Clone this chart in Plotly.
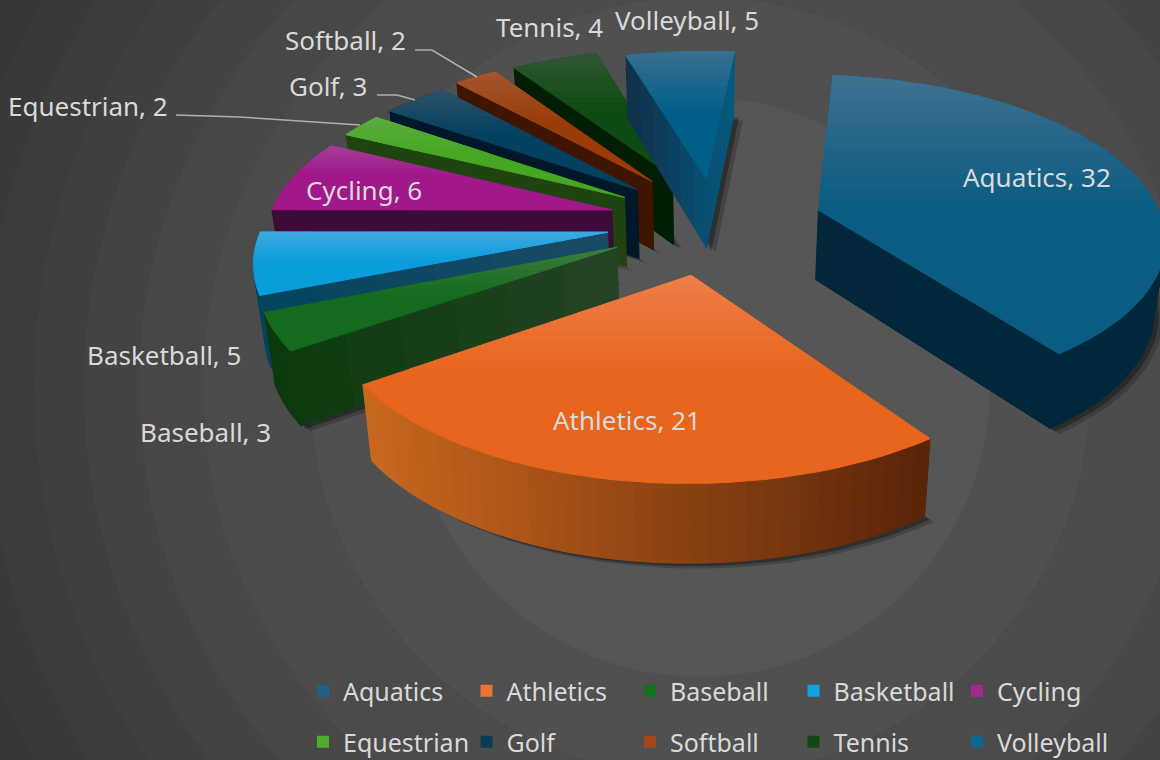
import math
import plotly.graph_objects as go

CATEGORIES = ["Aquatics", "Athletics", "Baseball", "Basketball", "Cycling",
              "Equestrian", "Golf", "Softball", "Tennis", "Volleyball"]
VALUES = [32, 21, 3, 5, 6, 2, 3, 2, 4, 5]

TOP_BASE = ["#0a5c82", "#e8651e", "#146a1e", "#0a9ddc", "#a0188a",
            "#46a822", "#04405f", "#9a3c08", "#0d4c12", "#005f8a"]
TOP_LIGHT = ["#3f7090", "#ee7d48", "#3d7d3d", "#3ea8e0", "#a53f98",
             "#5cab40", "#2c5068", "#a2552f", "#2f5632", "#3a6e8e"]
WALL_LEFT = ["#02263a", "#c9681f", "#0a3a0c", "#04445f", "#3e0a38",
             "#1f4410", "#00182a", "#3f1500", "#021e04", "#12304a"]
WALL_RIGHT = ["#00283c", "#5a2408", "#264326", "#1a4a66", "#3e0a38",
              "#1f4410", "#00182a", "#3f1500", "#021e04", "#055a80"]
LEGEND_COLOR = ["#1f6288", "#ee7530", "#157020", "#12a2e0", "#a5288f",
                "#4cae2c", "#0a3c56", "#a2481a", "#0f4a14", "#0f6690"]

LABEL_X = [1037, 627, 205, 164, 364, 88, 328, 345, 549, 687]
LABEL_Y = [177, 420, 432, 355, 190, 106, 86, 40, 27, 20]
LEADERS = [([176, 240, 360], [115, 117, 125]),
           ([377, 397, 415], [95, 95, 100]),
           ([415, 432, 477], [50, 50, 77])]
PULL_Y = [0.36, 0.305, 0.29, 0.24, 0.42, 0.35, 0.345, 0.36, 0.35, 0.30]
PULL_X = [0.33, 0.305, 0.30, 0.30, 0.296, 0.295, 0.29, 0.285, 0.27, 0.12]

RING_RADII = [1000, 900, 820, 763, 717, 666, 616, 561, 497, 390, 290]
RING_COLORS = ["#2e2e2e", "#323232", "#363636", "#393939", "#3c3c3c", "#3f3f3f",
               "#434343", "#474747", "#4b4b4b", "#505050", "#565656"]

W, H = 1160, 760
A, B, K, CX, CY = 345, 160, 0.15, 710, 225
START_DEG = 5.5
FONT = "Noto Sans"
TEXT = "#d9d9d9"


def project(x, y):
    w = 1 + K * y
    return CX + A * x / w, CY - B * y / w, 1 / w


def hexrgb(c):
    return tuple(int(c[i:i + 2], 16) for i in (1, 3, 5))


def lerp(c1, c2, t):
    a, b = hexrgb(c1), hexrgb(c2)
    return "#%02x%02x%02x" % tuple(round(a[i] + (b[i] - a[i]) * t) for i in range(3))


def clip_band(poly, y0, y1):
    def clip(pts, inside, edge_y):
        out = []
        for i, p in enumerate(pts):
            q = pts[(i + 1) % len(pts)]
            if inside(p):
                out.append(p)
            if inside(p) != inside(q):
                t = (edge_y - p[1]) / (q[1] - p[1])
                out.append((p[0] + (q[0] - p[0]) * t, edge_y))
        return out
    pts = clip(poly, lambda p: p[1] >= y0, y0)
    if pts:
        pts = clip(pts, lambda p: p[1] <= y1, y1)
    return pts


def patch(fig, pts, color, opacity=None):
    xs = [p[0] for p in pts] + [pts[0][0]]
    ys = [p[1] for p in pts] + [pts[0][1]]
    fig.add_trace(go.Scatter(
        x=xs, y=ys, mode="lines", fill="toself", fillcolor=color,
        line=dict(color=color, width=1 if opacity is None else 0),
        opacity=opacity, hoverinfo="skip", showlegend=False))


def base(p):
    """Foot of the wall that hangs below a point of the top face."""
    return CX + (p[0] - CX) * 0.975, p[1] + 30 + 40 * p[2]


total = sum(VALUES)
wedges = []
angle = START_DEG
for i, v in enumerate(VALUES):
    span = v / total * 360
    t0, t1 = angle, angle + span
    angle = t1
    mid = math.radians((t0 + t1) / 2)
    ox, oy = PULL_X[i] * math.sin(mid), PULL_Y[i] * math.cos(mid)
    outline = [project(ox, oy)]
    n = max(3, int(span / 2.5))
    for j in range(n + 1):
        a = math.radians(t0 + span * j / n)
        outline.append(project(ox + math.sin(a), oy + math.cos(a)))
    wedges.append((outline[0][1], i, outline))

fig = go.Figure()

for shade, off in ((0.2, 9), (0.3, 5)):
    for _, i, outline in wedges:
        pts = [(base(p)[0] + off, base(p)[1] + off * 0.6) for p in outline]
        patch(fig, pts, "#000000", opacity=shade)

for _, i, outline in sorted(wedges, key=lambda w: w[0]):
    closed = outline + [outline[0]]
    segments = []
    for a, b in zip(closed[:-1], closed[1:]):
        if b[0] < a[0]:
            steps = 6 if (a is outline[0] or b is outline[0]) else 1
            for j in range(steps):
                t0, t1 = j / steps, (j + 1) / steps
                p = tuple(a[k] + (b[k] - a[k]) * t0 for k in range(3))
                q = tuple(a[k] + (b[k] - a[k]) * t1 for k in range(3))
                segments.append((p, q))
    if segments:
        xmin = min(min(p[0], q[0]) for p, q in segments)
        xmax = max(max(p[0], q[0]) for p, q in segments)
        for p, q in segments:
            t = ((p[0] + q[0]) / 2 - xmin) / max(xmax - xmin, 1)
            color = lerp(WALL_LEFT[i], WALL_RIGHT[i], t)
            patch(fig, [(p[0], p[1]), (q[0], q[1]), base(q), base(p)], color)
    poly = [(p[0], p[1]) for p in outline]
    ymin = min(p[1] for p in poly)
    ymax = max(p[1] for p in poly)
    patch(fig, poly, TOP_BASE[i])
    bands = 10
    for j in range(bands):
        y0 = ymin + (ymax - ymin) * 0.45 * j / bands
        y1 = ymin + (ymax - ymin) * 0.45 * (j + 1) / bands
        pts = clip_band(poly, y0, y1 + 0.3)
        if len(pts) >= 3:
            patch(fig, pts, lerp(TOP_LIGHT[i], TOP_BASE[i], j / bands))

for xs, ys in LEADERS:
    fig.add_trace(go.Scatter(x=xs, y=ys, mode="lines", hoverinfo="skip", showlegend=False,
                             line=dict(color="#b0b0b0", width=1.5)))

for i, name in enumerate(CATEGORIES):
    fig.add_trace(go.Scatter(
        x=[None], y=[None], mode="markers", name=name,
        marker=dict(symbol="square", size=15, color=LEGEND_COLOR[i]),
        legend="legend" if i < 5 else "legend2"))

shapes = []
for r, c in zip(RING_RADII, RING_COLORS):
    shapes.append(dict(type="circle", xref="x", yref="y", layer="below",
                       x0=700 - r, x1=700 + r, y0=387 - r, y1=387 + r,
                       fillcolor=c, line=dict(width=0)))

annotations = [dict(x=LABEL_X[i], y=LABEL_Y[i], xref="x", yref="y", showarrow=False,
                    text=f"{CATEGORIES[i]}, {VALUES[i]}",
                    font=dict(family=FONT, size=26, color=TEXT))
               for i in range(len(CATEGORIES))]

legend_common = dict(orientation="h", xanchor="left", yanchor="middle",
                     entrywidth=118.5, entrywidthmode="pixels",
                     bgcolor="rgba(0,0,0,0)", itemsizing="constant",
                     font=dict(family=FONT, size=25, color=TEXT),
                     itemclick=False, itemdoubleclick=False)

fig.update_layout(
    width=W, height=H, margin=dict(l=0, r=0, t=0, b=0, autoexpand=False),
    paper_bgcolor="#2e2e2e", plot_bgcolor="#2e2e2e",
    xaxis=dict(range=[0, W], visible=False, fixedrange=True),
    yaxis=dict(range=[H, 0], visible=False, fixedrange=True),
    shapes=shapes, annotations=annotations,
    legend=dict(x=303 / W, y=1 - 691 / H, **legend_common),
    legend2=dict(x=303 / W, y=1 - 742 / H, **legend_common),
)

fig.write_html("out.html", config={"displayModeBar": False},
               post_script="document.body.style.margin='0';document.body.style.overflow='hidden';")
